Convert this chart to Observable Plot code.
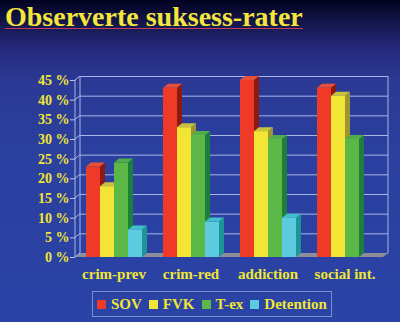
<!DOCTYPE html>
<html><head><meta charset="utf-8">
<script src="https://cdn.jsdelivr.net/npm/d3@7"></script>
<script src="https://cdn.jsdelivr.net/npm/@observablehq/plot@0.6"></script>
<style>
html,body{margin:0;padding:0;}
body{width:400px;height:322px;overflow:hidden;position:relative;
 background:linear-gradient(to bottom,#020220 0px,#14164a 22px,#262a7e 50px,#2b3994 80px,#2b40a0 160px,#2a43a6 322px);
 font-family:"Liberation Serif",serif;}
#title{position:absolute;left:5px;top:1px;font-size:28px;line-height:32px;font-weight:bold;color:#f4e63a;white-space:nowrap;
 text-decoration:underline;text-decoration-color:#c0405a;text-decoration-thickness:1px;text-underline-offset:2px;}
#chart{position:absolute;left:0;top:44px;}
#legend{position:absolute;left:92px;top:291px;width:240px;height:26px;border:1px solid #7f8fcc;white-space:nowrap;
 display:flex;align-items:center;font-weight:bold;font-size:15px;color:#f1e634;box-sizing:border-box;padding-left:4px;}
#legend span.sw{display:inline-block;width:9px;height:9px;margin-right:5px;flex-shrink:0;}
#legend span.it{display:inline-flex;align-items:center;margin-right:7px;flex-shrink:0;white-space:nowrap;}
</style></head>
<body>
<div id="title">Observerte suksess-rater</div>
<div id="chart"></div>
<div id="legend"></div>
<script>
const categories = ["crim-prev", "crim-red", "addiction", "social int."];
const series = ["SOV", "FVK", "T-ex", "Detention"];
const sov = [23, 43, 45, 43];
const fvk = [18, 33, 32, 41];
const tex = [24, 31, 30, 30];
const detention = [7, 9, 10, 0];
const yTicks = [0, 5, 10, 15, 20, 25, 30, 35, 40, 45];

const frontColors = ["#ee3a26", "#f3e535", "#5bb847", "#5ccbe0"];
const sideColors = ["#8c1a12", "#9c9530", "#1d7f3c", "#1a9696"];
const topColors = ["#e8503a", "#c9c23e", "#4fae4a", "#3fbfcc"];

const rows = [];
categories.forEach((c, i) => {
  [sov, fvk, tex, detention].forEach((arr, j) => rows.push({category: c, series: series[j], value: arr[i]}));
});

const DX = 5, DY = 4;
const NS = "http://www.w3.org/2000/svg";
function poly(points, fill) {
  const p = document.createElementNS(NS, "polygon");
  p.setAttribute("points", points.map(q => q.join(",")).join(" "));
  p.setAttribute("fill", fill);
  return p;
}

const bars = Plot.barY(rows.filter(d => d.value > 0), {
  fx: "category", x: "series", y: "value", fill: "series",
  render(index, scales, values, dims, context, next) {
    const g = next(index, scales, values, dims, context);
    const rects = Array.from(g.querySelectorAll("rect"));
    rects.forEach(r => {
      const x = +r.getAttribute("x"), y = +r.getAttribute("y");
      const w = +r.getAttribute("width"), h = +r.getAttribute("height");
      const ci = Math.max(0, frontColors.indexOf(r.getAttribute("fill")));
      r.parentNode.appendChild(poly([[x + w, y], [x + w + DX, y - DY], [x + w + DX, y + h - DY], [x + w, y + h]], sideColors[ci]));
      r.parentNode.appendChild(poly([[x, y], [x + DX, y - DY], [x + w + DX, y - DY], [x + w, y]], topColors[ci]));
      r.parentNode.appendChild(r);
    });
    return g;
  }
});

const walls = Plot.frame({
  facet: "super",
  render(index, scales, values, dims) {
    const y = scales.y;
    const x0 = dims.marginLeft, x1 = dims.width - dims.marginRight;
    const y0 = y(0), yT = y(45);
    const g = d3.create("svg:g");
    g.append("polygon")
      .attr("points", [[x0, y0], [x1, y0], [x1 + DX, y0 - DY], [x0 + DX, y0 - DY]].map(p => p.join(",")).join(" "))
      .attr("fill", "#8c8e9c");
    const ln = (a, b, c, d) => g.append("line").attr("x1", a).attr("y1", b).attr("x2", c).attr("y2", d)
      .attr("stroke", "#a9b5e3").attr("stroke-width", 1);
    ln(x0 + DX, yT - DY, x0 + DX, y0 - DY);
    ln(x1 + DX, yT - DY, x1 + DX, y0 - DY);
    ln(x0, yT, x0, y0);
    yTicks.forEach(t => ln(x0, y(t), x0 + DX, y(t) - DY));
    return g.node();
  }
});

const plot = Plot.plot({
  width: 400,
  height: 240,
  marginLeft: 75,
  marginRight: 17,
  marginTop: 36,
  marginBottom: 27,
  style: {background: "transparent", color: "#f1e634", fontFamily: "'Liberation Serif', serif", fontSize: "14px", fontWeight: "bold", overflow: "visible"},
  fx: {domain: categories, padding: 0},
  x: {domain: series, paddingInner: 0, paddingOuter: 0.75, axis: null},
  y: {domain: [0, 45]},
  color: {domain: series, range: frontColors},
  marks: [
    Plot.ruleY(yTicks, {dx: DX, dy: -DY, stroke: "#a9b5e3", strokeWidth: 1}),
    walls,
    bars,
    Plot.axisY({ticks: yTicks, tickFormat: d => d + " %", tickSize: 5, tickPadding: 1, stroke: "#b8c2e6", label: null, fontSize: 14}),
    Plot.axisFx({anchor: "bottom", tickSize: 0, tickPadding: 11, label: null, fontSize: 15})
  ]
});
document.getElementById("chart").appendChild(plot);

const lg = document.getElementById("legend");
series.forEach((s, i) => {
  const it = document.createElement("span");
  it.className = "it";
  const sw = document.createElement("span");
  sw.className = "sw";
  sw.style.background = frontColors[i];
  it.appendChild(sw);
  it.appendChild(document.createTextNode(s));
  lg.appendChild(it);
});
</script>
</body></html>
